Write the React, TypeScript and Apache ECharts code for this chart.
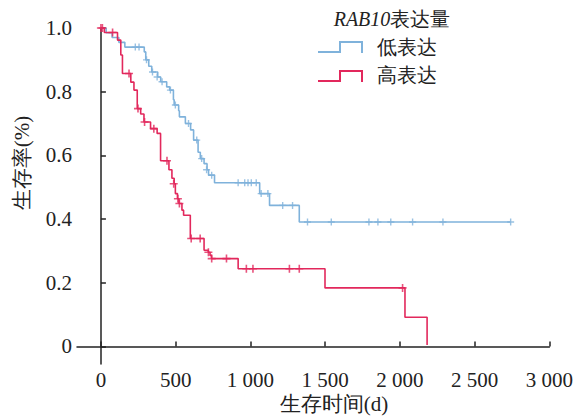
import React, { useEffect, useRef } from "react";
import * as echarts from "echarts";

// Kaplan-Meier step points: [day, survival]
const lowEvents: [number, number][] = [
  [0, 1], [35, 0.985], [75, 0.97], [120, 0.955], [160, 0.94], [290, 0.925], [300, 0.9],
  [320, 0.88], [340, 0.862], [380, 0.846], [400, 0.831], [440, 0.815], [460, 0.805],
  [485, 0.775], [490, 0.758], [520, 0.74], [525, 0.721], [565, 0.7], [600, 0.68],
  [620, 0.648], [650, 0.61], [665, 0.59], [690, 0.574], [710, 0.555], [720, 0.538],
  [760, 0.514], [1062, 0.48], [1128, 0.443], [1327, 0.391], [2741, 0.391],
];
const lowCensored: [number, number][] = [
  [230, 0.94], [255, 0.94], [305, 0.9], [345, 0.862], [376, 0.846], [409, 0.831],
  [465, 0.805], [498, 0.758], [586, 0.7], [641, 0.648], [674, 0.59], [707, 0.555],
  [741, 0.538], [918, 0.514], [962, 0.514], [984, 0.514], [1006, 0.514], [1039, 0.514],
  [1072, 0.48], [1117, 0.48], [1216, 0.443], [1282, 0.443], [1382, 0.391], [1541, 0.391],
  [1793, 0.391], [1853, 0.391], [1939, 0.391], [2085, 0.391], [2288, 0.391], [2741, 0.391],
];
const highEvents: [number, number][] = [
  [0, 1], [23, 0.986], [111, 0.962], [133, 0.915], [144, 0.857], [200, 0.83], [221, 0.805],
  [243, 0.747], [266, 0.73], [288, 0.705], [332, 0.684], [376, 0.669], [399, 0.583],
  [455, 0.555], [475, 0.528], [490, 0.511], [498, 0.48], [512, 0.464], [522, 0.449],
  [542, 0.428], [553, 0.412], [598, 0.339], [690, 0.302], [718, 0.296], [730, 0.286],
  [740, 0.276], [918, 0.244], [1499, 0.184], [2034, 0.092], [2182, 0.005],
];
const highCensored: [number, number][] = [
  [0, 1], [10, 1], [78, 0.986], [188, 0.857], [248, 0.747], [292, 0.705], [354, 0.684],
  [442, 0.583], [487, 0.511], [515, 0.464], [525, 0.449], [604, 0.339], [664, 0.339],
  [719, 0.296], [741, 0.276], [840, 0.276], [973, 0.244], [1017, 0.244], [1261, 0.244],
  [1327, 0.244], [2018, 0.184],
];

const seriesNames = ["低表达", "高表达"];
const legendTitleItalic = "RAB10";
const legendTitleRest = "表达量";
const xTitle = "生存时间(d)";
const yTitle = "生存率(%)";

const BLUE = "#7fb2db";
const RED = "#e2285c";
const FONT = "Liberation Serif";
const PLUS = "path://M4,0 H6 V4 H10 V6 H6 V10 H4 V6 H0 V4 H4 Z";

export default function App() {
  const ref = useRef<HTMLDivElement>(null);
  useEffect(() => {
    if (!ref.current) return;
    const chart = echarts.init(ref.current, null, { renderer: "svg" });
    const fmtX = (v: number) => {
      if (v < 0) return "";
      if (v >= 1000) {
        const s = String(v);
        return s.slice(0, s.length - 3) + " " + s.slice(s.length - 3);
      }
      return String(v);
    };
    chart.setOption({
      animation: false,
      backgroundColor: "#ffffff",
      textStyle: { fontFamily: FONT },
      grid: { left: 77, right: 22, top: 28, bottom: 52 },
      xAxis: {
        type: "value",
        min: -160,
        max: 3000,
        splitNumber: 6,
        axisLine: { lineStyle: { color: "#222", width: 1.5 } },
        axisTick: { inside: true, length: 5, lineStyle: { color: "#222", width: 1.5 } },
        axisLabel: {
          formatter: fmtX,
          color: "#222",
          fontFamily: FONT,
          fontSize: 21,
          margin: 5,
          showMinLabel: false,
        },
        splitLine: { show: false },
      },
      yAxis: {
        type: "value",
        min: -0.055,
        max: 1.0,
        splitNumber: 5,
        axisLine: { show: true, lineStyle: { color: "#222", width: 1.5 } },
        axisTick: { show: true, inside: true, length: 5, lineStyle: { color: "#222", width: 1.5 } },
        axisLabel: {
          formatter: (v: number) => (v < -0.001 ? "" : Math.abs(v) < 1e-9 ? "0" : v.toFixed(1)),
          color: "#222",
          fontFamily: FONT,
          fontSize: 21,
          margin: 5,
          showMinLabel: false,
        },
        splitLine: { show: false },
      },
      series: [
        {
          name: seriesNames[0],
          type: "line",
          step: "end",
          data: lowEvents,
          showSymbol: false,
          lineStyle: { color: BLUE, width: 1.6 },
          z: 2,
        },
        {
          name: seriesNames[1],
          type: "line",
          step: "end",
          data: highEvents,
          showSymbol: false,
          lineStyle: { color: RED, width: 1.6 },
          z: 3,
        },
        {
          type: "scatter",
          data: lowCensored,
          symbol: PLUS,
          symbolSize: 7,
          itemStyle: { color: BLUE },
          z: 4,
        },
        {
          type: "scatter",
          data: highCensored,
          symbol: PLUS,
          symbolSize: 8,
          itemStyle: { color: RED },
          z: 5,
        },
      ],
      graphic: [
        {
          type: "text",
          x: 22,
          y: 163,
          rotation: Math.PI / 2,
          style: {
            text: yTitle,
            fontFamily: FONT,
            fontSize: 21,
            fill: "#222",
            align: "center",
            verticalAlign: "middle",
          },
        },
        {
          type: "text",
          x: 334,
          y: 404,
          style: {
            text: xTitle,
            fontFamily: FONT,
            fontSize: 21,
            fill: "#222",
            align: "center",
            verticalAlign: "middle",
          },
        },
        {
          type: "text",
          x: 392,
          y: 19,
          style: {
            text: "{i|" + legendTitleItalic + "}{n|" + legendTitleRest + "}",
            align: "center",
            verticalAlign: "middle",
            rich: {
              i: { fontFamily: FONT, fontStyle: "italic", fontSize: 20, fill: "#222" },
              n: { fontFamily: FONT, fontSize: 20, fill: "#222" },
            },
          },
        },
        {
          type: "polyline",
          shape: { points: [[318, 52], [340, 52], [340, 42], [362, 42], [362, 53]] },
          style: { stroke: BLUE, lineWidth: 2, fill: null },
        },
        {
          type: "text",
          x: 377,
          y: 47,
          style: {
            text: seriesNames[0],
            fontFamily: FONT,
            fontSize: 20,
            fill: "#222",
            verticalAlign: "middle",
          },
        },
        {
          type: "polyline",
          shape: { points: [[318, 81], [340, 81], [340, 71], [362, 71], [362, 82]] },
          style: { stroke: RED, lineWidth: 2, fill: null },
        },
        {
          type: "text",
          x: 377,
          y: 75,
          style: {
            text: seriesNames[1],
            fontFamily: FONT,
            fontSize: 20,
            fill: "#222",
            verticalAlign: "middle",
          },
        },
      ],
    });
    return () => chart.dispose();
  }, []);
  return (
    <div
      ref={ref}
      style={{ position: "fixed", left: 0, top: 0, width: 576, height: 416, background: "#fff" }}
    />
  );
}
